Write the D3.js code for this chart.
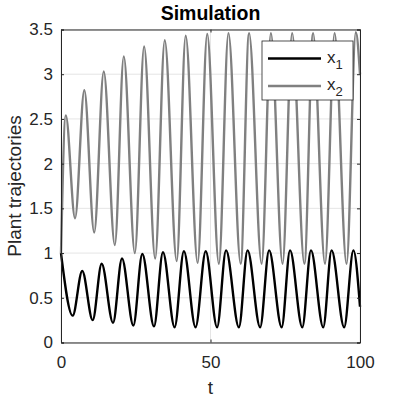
<!DOCTYPE html>
<html>
<head>
<meta charset="utf-8">
<script src="https://cdn.jsdelivr.net/npm/d3@7"></script>
<style>
  html, body { margin: 0; padding: 0; background: #fff; }
  text { font-family: "Liberation Sans", Arial, Helvetica, sans-serif; fill: #262626; }
</style>
</head>
<body>
<div class="chart"></div>
<script>
// x1 turning points (t, value)
const t1 = [0, 3.9, 7.1, 10.6, 13.6, 17.4, 20.4, 24.2, 27.2, 31.1, 34.1, 38.0, 41.1, 45.0,
            48.4, 52.2, 55.2, 59.5, 62.4, 66.6, 69.6, 73.8, 76.6, 80.7, 83.6, 87.7, 90.5,
            94.7, 97.8, 100];
const x1 = [1.0, 0.30, 0.80, 0.25, 0.88, 0.22, 0.94, 0.19, 0.99, 0.18, 1.01, 0.17, 1.02, 0.17,
            1.02, 0.17, 1.03, 0.17, 1.03, 0.17, 1.03, 0.17, 1.03, 0.17, 1.03, 0.17, 1.03,
            0.17, 1.03, 0.40];

// x2 turning points
const t2 = [0, 1.6, 4.7, 7.8, 11.1, 14.3, 18.0, 21.0, 24.7, 27.8, 31.5, 34.7, 38.7, 41.7,
            45.7, 48.9, 52.8, 56.0, 60.1, 62.9, 67.1, 70.2, 74.1, 77.3, 81.4, 84.3, 88.3,
            91.5, 95.5, 98.6, 100];
const x2 = [1.0, 2.54, 1.39, 2.82, 1.23, 3.03, 1.09, 3.20, 1.00, 3.31, 0.94, 3.38, 0.91, 3.43,
            0.89, 3.45, 0.88, 3.46, 0.88, 3.46, 0.88, 3.46, 0.88, 3.46, 0.88, 3.46, 0.88,
            3.46, 0.88, 3.47, 3.0];

const xTicks = [0, 50, 100];
const yTicks = [0, 0.5, 1, 1.5, 2, 2.5, 3, 3.5];
const seriesNames = ['1', '2'];
const seriesColors = ['#000000', '#808080'];

const width = 399;
const height = 399;
const margin = {top: 29.5, right: 39, bottom: 56.5, left: 61};
const axisColor = '#262626';
const gridColor = '#e5e5e5';

const svg = d3.select('.chart')
              .append('svg')
              .attr('width', width)
              .attr('height', height);

const x = d3.scaleLinear()
            .domain([0, 100])
            .range([margin.left, width - margin.right]);

const y = d3.scaleLinear()
            .domain([0, 3.5])
            .range([height - margin.bottom, margin.top]);

// grid
svg.append('g')
   .selectAll('line.gy')
   .data(yTicks)
   .enter().append('line')
   .attr('x1', margin.left).attr('x2', width - margin.right)
   .attr('y1', d => y(d)).attr('y2', d => y(d))
   .attr('stroke', gridColor);

svg.append('g')
   .selectAll('line.gx')
   .data(xTicks)
   .enter().append('line')
   .attr('x1', d => x(d)).attr('x2', d => x(d))
   .attr('y1', margin.top).attr('y2', height - margin.bottom)
   .attr('stroke', gridColor);

// series
const series = [t1.map((t, i) => [t, x1[i]]), t2.map((t, i) => [t, x2[i]])];
const line = d3.line()
               .x(d => x(d[0]))
               .y(d => y(d[1]))
               .curve(d3.curveMonotoneX);

svg.append('g')
   .selectAll('path')
   .data(series)
   .enter().append('path')
   .attr('d', line)
   .attr('fill', 'none')
   .attr('stroke', (d, i) => seriesColors[i])
   .attr('stroke-width', 2.4);

// axes, MATLAB style box with inward ticks
const tick = 3;
const xAxis = g => g
  .attr('transform', `translate(0,${height - margin.bottom})`)
  .call(d3.axisBottom(x).tickValues(xTicks).tickSize(-tick).tickPadding(13).tickFormat(d3.format('d')))
  .call(g => g.selectAll('text').attr('font-size', 17).attr('fill', axisColor));

const yAxis = g => g
  .attr('transform', `translate(${margin.left},0)`)
  .call(d3.axisLeft(y).tickValues(yTicks).tickSize(-tick).tickPadding(8).tickFormat(d => d))
  .call(g => g.selectAll('text').attr('font-size', 17).attr('fill', axisColor));

const xTop = g => g
  .attr('transform', `translate(0,${margin.top})`)
  .call(d3.axisTop(x).tickValues(xTicks).tickSize(-tick).tickFormat(''));

const yRight = g => g
  .attr('transform', `translate(${width - margin.right},0)`)
  .call(d3.axisRight(y).tickValues(yTicks).tickSize(-tick).tickFormat(''));

[xAxis, yAxis, xTop, yRight].forEach(a => {
  svg.append('g')
     .call(a)
     .call(g => g.select('.domain').attr('stroke', axisColor))
     .call(g => g.selectAll('.tick line').attr('stroke', axisColor))
     .attr('font-family', null);
});

// labels
svg.append('text')
   .attr('x', (margin.left + width - margin.right) / 2)
   .attr('y', 19.5)
   .attr('text-anchor', 'middle')
   .attr('font-size', 19.5)
   .attr('font-weight', 'bold')
   .style('fill', '#000')
   .text('Simulation');

svg.append('text')
   .attr('x', (margin.left + width - margin.right) / 2)
   .attr('y', 394)
   .attr('text-anchor', 'middle')
   .attr('font-size', 19)
   .text('t');

svg.append('text')
   .attr('transform', `translate(21,${(margin.top + height - margin.bottom) / 2}) rotate(-90)`)
   .attr('text-anchor', 'middle')
   .attr('font-size', 19)
   .text('Plant trajectories');

// legend
const legend = svg.append('g').attr('transform', 'translate(262,41)');
legend.append('rect')
      .attr('width', 91)
      .attr('height', 59)
      .attr('fill', '#fff')
      .attr('stroke', axisColor)
      .attr('stroke-width', 0.8);

const item = legend.selectAll('g.item')
                   .data(seriesNames)
                   .enter().append('g')
                   .attr('transform', (d, i) => `translate(0,${17.5 + i * 27.5})`);

item.append('line')
    .attr('x1', 6).attr('x2', 59)
    .attr('stroke', (d, i) => seriesColors[i])
    .attr('stroke-width', 2.4);

const lbl = item.append('text')
                .attr('x', 65)
                .attr('y', 4)
                .attr('font-size', 17);
lbl.append('tspan').text('x');
lbl.append('tspan').attr('dy', 6).attr('font-size', 13).text(d => d);
</script>
</body>
</html>
